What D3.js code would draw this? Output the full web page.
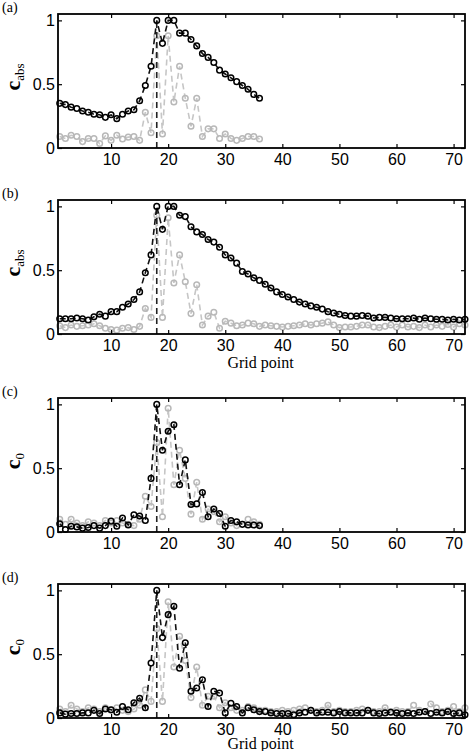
<!DOCTYPE html>
<html>
<head>
<meta charset="utf-8">
<script src="https://cdn.jsdelivr.net/npm/d3@7"></script>
<style>
  html, body { margin: 0; padding: 0; background: #fff; }
  svg { display: block; }
  .axis text { font-family: "Liberation Sans", Arial, sans-serif; font-size: 16px; fill: #000; }
  .axis line { stroke: #000; stroke-width: 1.2; }
  .axis path { display: none; }
</style>
</head>
<body>
<div class="container"></div>
<script>
// values, one entry per grid point starting at 1
const absBlackA = [0.35, 0.34, 0.32, 0.31, 0.29, 0.28, 0.265, 0.26, 0.24, 0.26,
  0.23, 0.265, 0.29, 0.30, 0.37, 0.49, 0.64, 1.0, 0.82, 1.0,
  1.0, 0.90, 0.90, 0.85, 0.80, 0.74, 0.71, 0.67, 0.61, 0.58,
  0.55, 0.52, 0.49, 0.46, 0.42, 0.39];
const absGrayA = [0.09, 0.075, 0.10, 0.09, 0.05, 0.075, 0.075, 0.035, 0.095, 0.06,
  0.10, 0.07, 0.085, 0.09, 0.06, 0.28, 0.12, 0.88, 0.11, 0.88,
  0.36, 0.64, 0.39, 0.17, 0.39, 0.09, 0.15, 0.15, 0.075, 0.11,
  0.075, 0.06, 0.075, 0.09, 0.09, 0.07];

const absBlackB = [0.12, 0.12, 0.12, 0.125, 0.12, 0.11, 0.135, 0.155, 0.14, 0.175,
  0.175, 0.21, 0.235, 0.27, 0.33, 0.48, 0.62, 1.0, 0.82, 1.0,
  1.0, 0.93, 0.92, 0.84, 0.80, 0.78, 0.74, 0.72, 0.68, 0.62,
  0.595, 0.555, 0.49, 0.47, 0.44, 0.42, 0.39, 0.36, 0.33, 0.31,
  0.29, 0.27, 0.25, 0.235, 0.22, 0.21, 0.195, 0.175, 0.165, 0.155,
  0.145, 0.14, 0.14, 0.145, 0.14, 0.125, 0.13, 0.13, 0.125, 0.12,
  0.12, 0.12, 0.125, 0.115, 0.125, 0.12, 0.115, 0.115, 0.11, 0.115, 0.11, 0.115];
const absGrayB = [0.065, 0.05, 0.07, 0.06, 0.065, 0.07, 0.08, 0.065, 0.045, 0.035,
  0.03, 0.045, 0.05, 0.035, 0.06, 0.20, 0.13, 0.93, 0.13, 0.91,
  0.40, 0.62, 0.41, 0.16, 0.385, 0.07, 0.14, 0.17, 0.045, 0.10,
  0.085, 0.065, 0.07, 0.085, 0.08, 0.06, 0.07, 0.065, 0.06, 0.055,
  0.06, 0.065, 0.07, 0.08, 0.07, 0.08, 0.085, 0.095, 0.07, 0.05,
  0.055, 0.055, 0.06, 0.07, 0.07, 0.055, 0.05, 0.06, 0.07, 0.055,
  0.07, 0.055, 0.06, 0.05, 0.07, 0.055, 0.07, 0.06, 0.075, 0.055, 0.08, 0.07];

const c0BlackC = [0.065, 0.02, 0.045, 0.04, 0.03, 0.035, 0.05, 0.03, 0.05, 0.085,
  0.045, 0.11, 0.055, 0.135, 0.125, 0.09, 0.42, 1.0, 0.64, 0.79,
  0.84, 0.37, 0.565, 0.215, 0.22, 0.31, 0.12, 0.18, 0.145, 0.045,
  0.09, 0.08, 0.06, 0.055, 0.055, 0.05];
const c0GrayC = [0.10, 0.06, 0.10, 0.07, 0.05, 0.08, 0.07, 0.05, 0.09, 0.07,
  0.09, 0.07, 0.06, 0.05, 0.10, 0.28, 0.20, 0.70, 0.12, 0.97,
  0.37, 0.64, 0.42, 0.14, 0.39, 0.10, 0.18, 0.16, 0.08, 0.12,
  0.07, 0.05, 0.06, 0.10, 0.08, 0.06];

const c0BlackD = [0.04, 0.03, 0.035, 0.035, 0.04, 0.04, 0.06, 0.035, 0.07, 0.065,
  0.045, 0.09, 0.065, 0.12, 0.155, 0.08, 0.43, 1.0, 0.63, 0.81,
  0.875, 0.39, 0.59, 0.21, 0.235, 0.30, 0.09, 0.21, 0.195, 0.04,
  0.115, 0.09, 0.04, 0.08, 0.065, 0.05, 0.05, 0.04, 0.035, 0.035,
  0.035, 0.025, 0.04, 0.045, 0.06, 0.04, 0.045, 0.045, 0.04, 0.05,
  0.04, 0.04, 0.04, 0.04, 0.06, 0.04, 0.035, 0.04, 0.045, 0.04,
  0.035, 0.04, 0.035, 0.045, 0.05, 0.035, 0.045, 0.04, 0.05, 0.035, 0.04, 0.025];
const c0GrayD = [0.07, 0.05, 0.10, 0.07, 0.05, 0.08, 0.07, 0.05, 0.08, 0.06,
  0.08, 0.06, 0.05, 0.07, 0.10, 0.22, 0.13, 0.70, 0.13, 0.91,
  0.40, 0.64, 0.45, 0.16, 0.40, 0.10, 0.17, 0.17, 0.08, 0.12,
  0.08, 0.06, 0.06, 0.09, 0.08, 0.06, 0.06, 0.05, 0.05, 0.06,
  0.05, 0.06, 0.07, 0.08, 0.06, 0.05, 0.06, 0.10, 0.05, 0.06,
  0.05, 0.05, 0.06, 0.07, 0.06, 0.05, 0.05, 0.08, 0.05, 0.06,
  0.05, 0.05, 0.10, 0.06, 0.05, 0.11, 0.08, 0.05, 0.06, 0.09, 0.05, 0.08];

const xTicks = [10, 20, 30, 40, 50, 60, 70];
const yTicks = [0, 0.5, 1];
const panelLabels = ["(a)", "(b)", "(c)", "(d)"];
const peakPoint = 18;

const width = 469;
const height = 751;
const left = 58;
const right = 465;
const plotHeight = 134;

const panels = [
  { label: panelLabels[0], top: 14, sub: "abs", black: absBlackA, gray: absGrayA, xTitle: null },
  { label: panelLabels[1], top: 200, sub: "abs", black: absBlackB, gray: absGrayB, xTitle: 368 },
  { label: panelLabels[2], top: 398, sub: "0", black: c0BlackC, gray: c0GrayC, xTitle: null },
  { label: panelLabels[3], top: 584, sub: "0", black: c0BlackD, gray: c0GrayD, xTitle: 749 }
];

const svg = d3.select(".container")
  .append("svg")
  .attr("width", width)
  .attr("height", height);

const x = d3.scaleLinear().domain([0.7, 72]).range([left, right]);

function drawSeries(g, y, values, color, lineColor, dash, width) {
  const pts = values.map((v, i) => [i + 1, v]);
  const line = d3.line().x(d => x(d[0])).y(d => y(d[1]));
  g.append("path")
    .datum(pts)
    .attr("d", line)
    .attr("fill", "none")
    .attr("stroke", lineColor)
    .attr("stroke-width", width)
    .attr("stroke-dasharray", dash);
  g.append("g")
    .selectAll("circle")
    .data(pts)
    .enter()
    .append("circle")
    .attr("cx", d => x(d[0]))
    .attr("cy", d => y(d[1]))
    .attr("r", 2.8)
    .attr("fill", "none")
    .attr("stroke", color)
    .attr("stroke-width", 1.5);
}

function drawPanel(p) {
  const bottom = p.top + plotHeight;
  const y = d3.scaleLinear().domain([0, 1.05]).range([bottom, p.top]);
  const g = svg.append("g");

  drawSeries(g, y, p.gray, "#b8b8b8", "#c6c6c6", "6,4", 1.6);

  g.append("line")
    .attr("x1", x(peakPoint)).attr("x2", x(peakPoint))
    .attr("y1", y(0)).attr("y2", y(1))
    .attr("stroke", "#222")
    .attr("stroke-width", 1.6)
    .attr("stroke-dasharray", "6,4");

  drawSeries(g, y, p.black, "#000", "#111", "6,4", 1.6);

  g.append("g")
    .attr("class", "axis")
    .attr("transform", `translate(0, ${bottom})`)
    .call(d3.axisBottom(x).tickValues(xTicks).tickSizeInner(-4).tickSizeOuter(0).tickPadding(6));
  g.append("g")
    .attr("class", "axis")
    .attr("transform", `translate(0, ${p.top})`)
    .call(d3.axisTop(x).tickValues(xTicks).tickSizeInner(-4).tickSizeOuter(0).tickFormat(""));
  g.append("g")
    .attr("class", "axis")
    .attr("transform", `translate(${left}, 0)`)
    .call(d3.axisLeft(y).tickValues(yTicks).tickSizeInner(-4).tickSizeOuter(0).tickPadding(3)
      .tickFormat(d => d === 0.5 ? "0.5" : d3.format("d")(d)));
  g.append("g")
    .attr("class", "axis")
    .attr("transform", `translate(${right}, 0)`)
    .call(d3.axisRight(y).tickValues(yTicks).tickSizeInner(-4).tickSizeOuter(0).tickFormat(""));

  g.append("rect")
    .attr("x", left)
    .attr("y", p.top)
    .attr("width", right - left)
    .attr("height", plotHeight)
    .attr("fill", "none")
    .attr("stroke", "#000")
    .attr("stroke-width", 1.8);

  // y title, rotated, bold c with a subscript
  const yt = g.append("text")
    .attr("transform", `translate(20, ${p.top + plotHeight / 2 - 4}) rotate(-90)`)
    .attr("text-anchor", "middle")
    .attr("font-family", "'Liberation Serif', 'Times New Roman', serif");
  yt.append("tspan").attr("font-size", 22).attr("font-weight", "bold").text("c");
  yt.append("tspan").attr("font-size", 13).attr("dy", 4).text(p.sub);

  svg.append("text")
    .attr("x", 2)
    .attr("y", p.top - 2)
    .attr("font-family", "'Liberation Serif', 'Times New Roman', serif")
    .attr("font-size", 14)
    .text(p.label);

  if (p.xTitle) {
    svg.append("text")
      .attr("x", (left + right) / 2 - 1)
      .attr("y", p.xTitle)
      .attr("text-anchor", "middle")
      .attr("font-family", "'Liberation Serif', 'Times New Roman', serif")
      .attr("font-size", 16)
      .text("Grid point");
  }
}

panels.forEach(drawPanel);
</script>
</body>
</html>
